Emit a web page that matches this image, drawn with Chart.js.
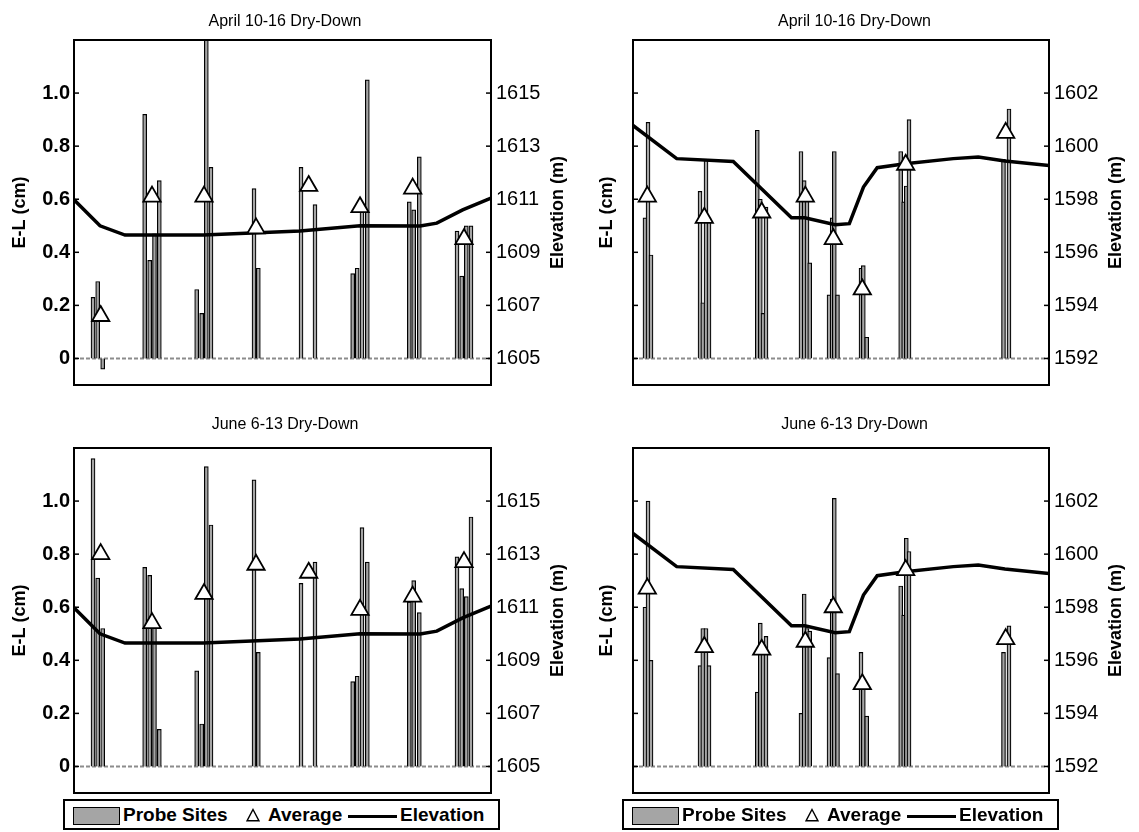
<!DOCTYPE html>
<html>
<head>
<meta charset="utf-8">
<script src="https://cdn.jsdelivr.net/npm/chart.js@4.4.1/dist/chart.umd.min.js"></script>
<style>
  body { margin: 0; background: #fff; }
  #wrap { position: relative; width: 1139px; height: 832px; overflow: hidden; font-family: "Liberation Sans", Arial, sans-serif; }
  canvas { position: absolute; }
  .lg { position: absolute; top: 799px; width: 437px; height: 31px; box-sizing: border-box; border: 2px solid #000; background: #fff; }
  .lg > * { position: absolute; }
  .lg .t { top: 0; line-height: 28px; font-size: 19px; font-weight: bold; color: #000; white-space: nowrap; }
  .lg .sw { left: 8px; top: 6px; width: 47px; height: 18px; box-sizing: border-box; background: #a5a5a5; border: 1px solid #000; }
  .lg .tri { left: 181px; top: 7px; }
  .lg .ln { left: 283px; top: 14px; width: 49px; height: 3px; background: #000; }
</style>
</head>
<body>
<div id="wrap">
  <canvas id="c1" width="570" height="395" style="left:0;top:0"></canvas>
  <canvas id="c2" width="569" height="395" style="left:570px;top:0"></canvas>
  <canvas id="c3" width="570" height="400" style="left:0;top:400px"></canvas>
  <canvas id="c4" width="569" height="400" style="left:570px;top:400px"></canvas>

  <div class="lg" style="left:63px">
    <span class="sw"></span><span class="t" style="left:58px">Probe Sites</span>
    <svg class="tri" width="14" height="14"><polygon points="7,1.5 13,12.8 1,12.8" fill="#fff" stroke="#000" stroke-width="1.4"/></svg>
    <span class="t" style="left:203px">Average</span>
    <span class="ln"></span><span class="t" style="left:335px">Elevation</span>
  </div>
  <div class="lg" style="left:622px">
    <span class="sw"></span><span class="t" style="left:58px">Probe Sites</span>
    <svg class="tri" width="14" height="14"><polygon points="7,1.5 13,12.8 1,12.8" fill="#fff" stroke="#000" stroke-width="1.4"/></svg>
    <span class="t" style="left:203px">Average</span>
    <span class="ln"></span><span class="t" style="left:335px">Elevation</span>
  </div>
</div>
<script>
const FONT = '"Liberation Sans", Arial, sans-serif';

// position of each probe site along the transect (0-100)
const leftSitePos = [4.56, 5.68, 6.88, 16.95, 18.15, 19.30, 20.46, 29.42, 30.62, 31.73, 32.85,
  43.17, 44.20, 54.44, 57.79, 66.83, 67.91, 69.06, 70.34, 80.41, 81.46, 82.81, 91.85, 92.97, 94.08, 95.20];
const rightSitePos = [2.88, 3.61, 4.33, 16.11, 16.78, 17.55, 18.27, 29.88, 30.60, 31.25, 31.97,
  40.38, 41.15, 41.83, 42.48, 47.12, 47.88, 48.39, 49.16, 54.81, 55.36, 56.18, 64.35, 65.07, 65.70, 66.35, 89.06, 90.38];

// E-L (cm) per probe site
const aprilLeftEL = [0.23, 0.29, -0.04, 0.92, 0.37, 0.47, 0.67, 0.26, 0.17, 1.30, 0.72,
  0.64, 0.34, 0.72, 0.58, 0.32, 0.34, 0.57, 1.05, 0.59, 0.56, 0.76, 0.48, 0.31, 0.50, 0.50];
const juneLeftEL = [1.16, 0.71, 0.52, 0.75, 0.72, 0.55, 0.14, 0.36, 0.16, 1.13, 0.91,
  1.08, 0.43, 0.69, 0.77, 0.32, 0.34, 0.90, 0.77, 0.62, 0.70, 0.58, 0.79, 0.67, 0.64, 0.94];
const aprilRightEL = [0.53, 0.89, 0.39, 0.63, 0.21, 0.75, 0.53, 0.86, 0.60, 0.17, 0.57,
  0.78, 0.67, 0.63, 0.36, 0.24, 0.53, 0.78, 0.24, 0.34, 0.35, 0.08, 0.78, 0.59, 0.65, 0.90, 0.75, 0.94];
const juneRightEL = [0.60, 1.00, 0.40, 0.38, 0.52, 0.52, 0.38, 0.28, 0.54, 0.45, 0.49,
  0.20, 0.65, 0.52, 0.51, 0.41, 0.63, 1.01, 0.35, 0.43, 0.30, 0.19, 0.68, 0.57, 0.86, 0.81, 0.43, 0.53];

// group averages
const leftAvgPos = [6.40, 18.71, 31.18, 43.65, 56.28, 68.59, 81.22, 93.53];
const rightAvgPos = [3.44, 17.14, 30.94, 41.42, 48.15, 55.12, 65.55, 89.59];
const aprilLeftAvg = [0.16, 0.61, 0.61, 0.49, 0.65, 0.57, 0.64, 0.45];
const juneLeftAvg = [0.80, 0.54, 0.65, 0.76, 0.73, 0.59, 0.64, 0.77];
const aprilRightAvg = [0.61, 0.53, 0.55, 0.61, 0.45, 0.26, 0.73, 0.85];
const juneRightAvg = [0.67, 0.45, 0.44, 0.47, 0.60, 0.31, 0.74, 0.48];

// elevation profile (m)
const leftElevPos = [0, 6.24, 12.23, 31.0, 54.2, 68.6, 83.0, 87.0, 93.2, 100];
const leftElev = [1610.98, 1610.0, 1609.65, 1609.65, 1609.8, 1610.0, 1609.99, 1610.1, 1610.6, 1611.04];
const rightElevPos = [0, 10.5, 24.1, 38.1, 41.3, 48.6, 52.0, 55.4, 58.7, 65.4, 77.0, 83.0, 89.4, 100];
const rightElev = [1600.78, 1599.53, 1599.42, 1597.3, 1597.3, 1597.04, 1597.08, 1598.46, 1599.19, 1599.34,
  1599.53, 1599.59, 1599.44, 1599.27];

// tick labels
const elTicks = [0, 0.2, 0.4, 0.6, 0.8, 1.0];
const leftElevTicks = [1605, 1607, 1609, 1611, 1613, 1615];
const rightElevTicks = [1592, 1594, 1596, 1598, 1600, 1602];

const pairs = (xs, ys) => xs.map((x, i) => ({x: x, y: ys[i]}));

// zero line, box frame, inward ticks and the right-hand title
const decor = {
  id: 'decor',
  beforeDatasetsDraw(chart) {
    const {ctx, chartArea: a, scales} = chart;
    const y0 = scales.y.getPixelForValue(0);
    ctx.save();
    ctx.strokeStyle = '#8c8c8c';
    ctx.lineWidth = 2;
    ctx.setLineDash([4, 2]);
    ctx.beginPath();
    ctx.moveTo(a.left, y0);
    ctx.lineTo(a.right, y0);
    ctx.stroke();
    ctx.restore();
  },
  afterDatasetsDraw(chart) {
    const {ctx, chartArea: a, scales} = chart;
    ctx.save();
    ctx.strokeStyle = '#000';
    ctx.lineWidth = 2;
    ctx.strokeRect(a.left, a.top, a.right - a.left, a.bottom - a.top);
    ctx.lineWidth = 1.5;
    scales.y.ticks.forEach(t => {
      const p = scales.y.getPixelForValue(t.value);
      ctx.beginPath(); ctx.moveTo(a.left, p); ctx.lineTo(a.left + 5, p); ctx.stroke();
    });
    scales.y2.ticks.forEach(t => {
      const p = scales.y2.getPixelForValue(t.value);
      ctx.beginPath(); ctx.moveTo(a.right - 5, p); ctx.lineTo(a.right + 1, p); ctx.stroke();
    });
    // right axis title reads bottom to top
    ctx.font = 'bold 18px ' + FONT;
    ctx.fillStyle = '#000';
    ctx.textAlign = 'center';
    ctx.textBaseline = 'middle';
    ctx.translate(a.right + 67, (a.top + a.bottom) / 2);
    ctx.rotate(-Math.PI / 2);
    ctx.fillText(chart.options.scales.y2.title.text, 0, 0);
    ctx.restore();
  }
};

function noPad(s, w) {
  s.width = w;
  s.paddingTop = 0;
  s.paddingBottom = 0;
}

function makeChart(id, o) {
  return new Chart(document.getElementById(id), {
    type: 'bar',
    data: {
      datasets: [
        {
          type: 'line', label: 'Average', data: pairs(o.avgPos, o.avg), showLine: false,
          pointStyle: 'triangle', pointRadius: 10, pointBackgroundColor: '#fff',
          pointBorderColor: '#000', pointBorderWidth: 1.8, order: 0, yAxisID: 'y'
        },
        {
          type: 'line', label: 'Elevation', data: pairs(o.elevPos, o.elev), borderColor: '#000',
          borderWidth: 3.5, pointRadius: 0, tension: 0, order: 1, yAxisID: 'y2'
        },
        {
          type: 'bar', label: 'Probe Sites', data: pairs(o.sitePos, o.el), backgroundColor: '#a5a5a5',
          borderColor: '#000', borderWidth: 1.2, barThickness: 4, order: 2, yAxisID: 'y'
        }
      ]
    },
    options: {
      responsive: false,
      animation: false,
      layout: { autoPadding: false, padding: { left: 0, right: 0, top: 0, bottom: o.bottomPad } },
      plugins: {
        legend: { display: false },
        tooltip: { enabled: false },
        title: {
          display: true, text: o.title, color: '#000',
          font: { family: FONT, size: 16, weight: 'normal' },
          padding: o.titlePad
        }
      },
      scales: {
        x: { type: 'linear', min: 0, max: 100, display: false, offset: false },
        y: {
          position: 'left', min: -0.1, max: 1.2,
          afterBuildTicks: s => { s.ticks = elTicks.map(v => ({value: v})); },
          afterFit: s => noPad(s, o.leftW),
          grid: { display: false, drawTicks: false },
          border: { display: false },
          ticks: {
            display: o.leftLabels, padding: 4, color: '#000',
            font: { family: FONT, size: 20, weight: 'bold' },
            callback: v => v === 0 ? '0' : v.toFixed(1)
          },
          title: {
            display: true, text: 'E-L (cm)', color: '#000',
            font: { family: FONT, size: 18, weight: 'bold' },
            padding: { top: o.leftTitlePad, bottom: 0 }
          }
        },
        y2: {
          position: 'right', min: o.elevRange[0], max: o.elevRange[1],
          afterBuildTicks: s => { s.ticks = o.elevTicks.map(v => ({value: v})); },
          afterFit: s => noPad(s, o.rightW),
          grid: { display: false, drawTicks: false },
          border: { display: false },
          ticks: {
            padding: 5, color: '#000',
            font: { family: FONT, size: 20 },
            callback: v => String(v)
          },
          title: { display: false, text: 'Elevation (m)' }
        }
      }
    },
    plugins: [decor]
  });
}

const topRow = { titlePad: { top: 12, bottom: 8.8 }, bottomPad: 10 };
const bottomRow = { titlePad: { top: 15, bottom: 13.8 }, bottomPad: 7 };
const leftCol = { leftW: 74, rightW: 79, leftLabels: true, leftTitlePad: 9 };
const rightCol = { leftW: 63, rightW: 90, leftLabels: false, leftTitlePad: 26 };

makeChart('c1', Object.assign({}, topRow, leftCol, {
  title: 'April 10-16 Dry-Down', sitePos: leftSitePos, el: aprilLeftEL,
  avgPos: leftAvgPos, avg: aprilLeftAvg, elevPos: leftElevPos, elev: leftElev,
  elevTicks: leftElevTicks, elevRange: [1604, 1617]
}));
makeChart('c2', Object.assign({}, topRow, rightCol, {
  title: 'April 10-16 Dry-Down', sitePos: rightSitePos, el: aprilRightEL,
  avgPos: rightAvgPos, avg: aprilRightAvg, elevPos: rightElevPos, elev: rightElev,
  elevTicks: rightElevTicks, elevRange: [1591, 1604]
}));
makeChart('c3', Object.assign({}, bottomRow, leftCol, {
  title: 'June 6-13 Dry-Down', sitePos: leftSitePos, el: juneLeftEL,
  avgPos: leftAvgPos, avg: juneLeftAvg, elevPos: leftElevPos, elev: leftElev,
  elevTicks: leftElevTicks, elevRange: [1604, 1617]
}));
makeChart('c4', Object.assign({}, bottomRow, rightCol, {
  title: 'June 6-13 Dry-Down', sitePos: rightSitePos, el: juneRightEL,
  avgPos: rightAvgPos, avg: juneRightAvg, elevPos: rightElevPos, elev: rightElev,
  elevTicks: rightElevTicks, elevRange: [1591, 1604]
}));
</script>
</body>
</html>
